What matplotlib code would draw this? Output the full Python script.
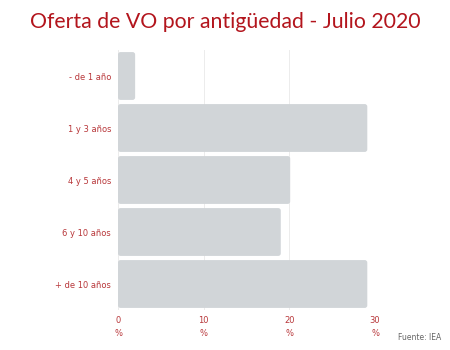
import matplotlib
matplotlib.use("Agg")
import matplotlib.pyplot as plt
from matplotlib.patches import FancyBboxPatch

categories = ["- de 1 año", "1 y 3 años", "4 y 5 años", "6 y 10 años", "+ de 10 años"]
values = [2.0, 29.1, 20.1, 19.0, 29.1]
xticks = [0, 10, 20, 30]
xtick_labels = ["0\n%", "10\n%", "20\n%", "30\n%"]

RED = "#b3151d"
TICK_RED = "#b8373a"
BAR = "#d1d5d8"

fig = plt.figure(figsize=(4.5, 3.5), dpi=100)
ax = fig.add_axes([118 / 450, 1 - 310 / 350, (375 - 118) / 450, (310 - 50) / 350])

ypos = list(range(len(categories)))
bars = ax.barh(ypos, values, height=0.92, color=BAR)

# swap plain rectangles for rounded ones with the same geometry
for b in bars:
    b.set_visible(False)
    r = FancyBboxPatch((b.get_x(), b.get_y()), b.get_width(), b.get_height(),
                       boxstyle="round,pad=0,rounding_size=0.3",
                       mutation_aspect=0.16, facecolor=BAR, edgecolor="none", zorder=2)
    ax.add_patch(r)

ax.set_xlim(0, 30)
ax.set_ylim(len(categories) - 0.5, -0.5)
ax.set_yticks(ypos)
ax.set_yticklabels(categories, fontsize=6, color=TICK_RED)
ax.set_xticks(xticks)
ax.set_xticklabels(xtick_labels, fontsize=6, color=TICK_RED, linespacing=1.6)
ax.tick_params(axis="x", length=0, pad=4)
ax.tick_params(axis="y", length=0, pad=5)
ax.grid(axis="x", color="#ececec", linewidth=0.7, zorder=0)
ax.set_axisbelow(True)
for s in ax.spines.values():
    s.set_visible(False)

fig.text(0.5, 1 - 22 / 350, "Oferta de VO por antigüedad - Julio 2020",
         ha="center", va="center", fontsize=15.3, color=RED, family="Lato")
fig.text(441 / 450, 1 - 338 / 350, "Fuente: IEA", ha="right", va="center",
         fontsize=5.5, color="#666666")

fig.savefig("out.png", dpi=100, facecolor="white")
